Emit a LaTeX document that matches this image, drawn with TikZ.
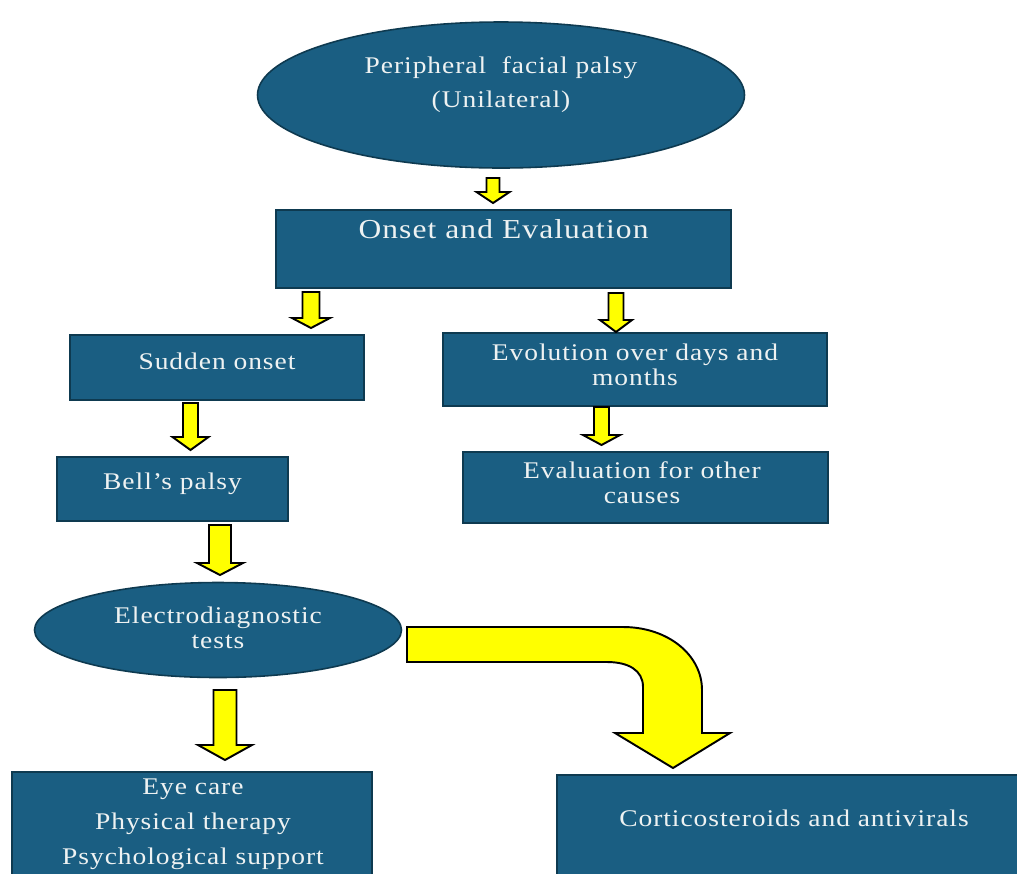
\documentclass[tikz,border=0pt]{standalone}
\usepackage{fontspec}
\newfontfamily\boxfont[FakeStretch=1.15,LetterSpace=4]{Liberation Serif}
\usetikzlibrary{shapes.geometric}

\definecolor{boxblue}{HTML}{1A5E82}
\definecolor{boxline}{HTML}{0E3A50}
\definecolor{boxtext}{HTML}{EEF2F2}
\definecolor{arrowyellow}{RGB}{255,255,0}

\newlength\pxu \setlength\pxu{0.02cm}
% x, top, head base, tip, shaft half width, head half width
\newcommand\yarrow[6]{%
  \draw[yfill] ({#1-#5},#2) -- ({#1+#5},#2) -- ({#1+#5},#3) -- ({#1+#6},#3) -- (#1,#4) -- ({#1-#6},#3) -- ({#1-#5},#3) -- cycle;}

\tikzset{
  bluebox/.style={draw=boxline, line width=0.9pt, fill=boxblue, inner sep=0pt},
  blueoval/.style={bluebox, ellipse},
  yfill/.style={draw=black, line width=1.1pt, fill=arrowyellow, line join=miter},
  txt/.style={text=boxtext, align=center, font=\boxfont\fontsize{13.6}{14.2}\selectfont}
}

\begin{document}
\begin{tikzpicture}[x=0.02cm, y=-0.02cm]
\useasboundingbox (0,0) rectangle (1017,873);
\clip (0,0) rectangle (1017,873);
\fill[white] (0,0) rectangle (1017,873);

% boxes
\node[blueoval, minimum width=487\pxu, minimum height=146\pxu] (palsy) at (501,95) {};
\node[bluebox, minimum width=455\pxu, minimum height=78\pxu] (onset) at (503.5,249) {};
\node[bluebox, minimum width=294\pxu, minimum height=65\pxu] (sudden) at (217,367.5) {};
\node[bluebox, minimum width=384\pxu, minimum height=73\pxu] (evol) at (635,369.5) {};
\node[bluebox, minimum width=231\pxu, minimum height=64\pxu] (bells) at (172.5,489) {};
\node[bluebox, minimum width=365\pxu, minimum height=71\pxu] (other) at (645.5,487.5) {};
\node[blueoval, minimum width=367\pxu, minimum height=95\pxu] (electro) at (218,630) {};
\node[bluebox, minimum width=360\pxu, minimum height=128\pxu] (care) at (192,836) {};
\node[bluebox, minimum width=483\pxu, minimum height=125\pxu] (cortico) at (798.5,837.5) {};

% texts
\node[txt, font=\boxfont\fontsize{13.6}{19.4}\selectfont] at (501,85) {Peripheral\ \ facial palsy\\(Unilateral)};
\node[txt, font=\boxfont\fontsize{15.6}{16}\selectfont] at (503.5,229) {Onset and Evaluation};
\node[txt] at (217,361) {Sudden onset};
\node[txt] at (635,364.5) {Evolution over days and\\months};
\node[txt] at (172.5,484) {Bell’s palsy};
\node[txt] at (642,482.5) {Evaluation for other\\causes};
\node[txt] at (218,627.5) {Electrodiagnostic\\tests};
\node[txt, font=\boxfont\fontsize{13.6}{19.9}\selectfont] at (193,824) {Eye care\\Physical therapy\\Psychological support};
\node[txt] at (794,818) {Corticosteroids and antivirals};

% arrows
\yarrow{493}{178}{192}{203}{6.5}{16.5}
\yarrow{311}{292}{318}{328}{8.5}{19}
\yarrow{616}{293}{320}{332}{7.5}{16}
\yarrow{190.5}{403}{437}{450}{7.5}{18}
\yarrow{601.5}{407}{435}{445}{7.5}{18.5}
\yarrow{220}{525}{563}{575}{11}{23}
\yarrow{225}{690}{745}{760}{11.5}{27}

\draw[yfill] (407,627) -- (623,627) .. controls (668,627) and (702,655) .. (702,690) -- (702,733)
  -- (730,733) -- (673,768) -- (615,733) -- (643,733) -- (643,687)
  .. controls (643,670) and (628,662) .. (607,662) -- (407,662) -- cycle;

\end{tikzpicture}
\end{document}
